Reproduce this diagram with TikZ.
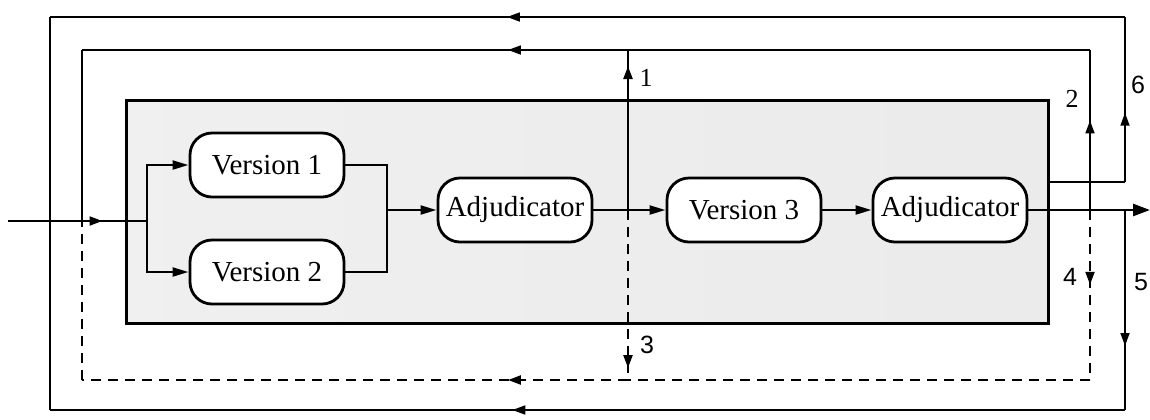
\documentclass[tikz,border=0pt]{standalone}
\usepackage{fontspec}
\setmainfont{Liberation Serif}
\newfontfamily\labsans{Liberation Sans}
\usetikzlibrary{arrows.meta,decorations.markings}

\begin{document}
\begin{tikzpicture}[x=0.5pt,y=-0.5pt,
  flow/.style={line width=1.3pt},
  fb/.style={line width=1.1pt},
  tap/.style={line width=1.4pt},
  dashfb/.style={line width=1.3pt, dash pattern=on 5pt off 3.5pt},
  midtip/.style={postaction={decorate},
    decoration={markings, mark=at position #1 with {\arrow{Triangle[length=6.5pt,width=4.4pt]}}}},
  into/.style={-{Triangle[length=8pt,width=4.4pt]}},
  unit/.style={draw, line width=1.4pt, fill=white, rounded corners=11pt,
    minimum width=77pt, minimum height=32pt, inner sep=2pt,
    font=\fontsize{14.5}{16}\selectfont},
  frame/.style={draw, line width=1.5pt, minimum width=461pt, minimum height=111.5pt,
    left color=black!6, middle color=black!20, right color=black!8},
  lab/.style={font=\fontsize{13}{15}\selectfont, inner sep=1pt},
  slab/.style={font=\labsans\fontsize{12.5}{15}\selectfont, inner sep=1pt}
]
\useasboundingbox (0,0) rectangle (1150,419);

% shaded block holding both stages
\node[frame] (box) at (587,211.5) {};

% processing units
\node[unit] (v1)   at (267,165) {Version 1};
\node[unit] (v2)   at (267,272) {Version 2};
\node[unit] (adj1) at (515,210) {Adjudicator};
\node[unit] (v3)   at (744,210) {Version 3};
\node[unit] (adj2) at (950,210) {Adjudicator};

% junction and corner points
\coordinate (in)    at (8,221);
\coordinate (split) at (147,221);
\coordinate (merge) at (387,210);
\coordinate (out)   at (1150,210);
\coordinate (t1)    at (628,210);
\coordinate (t2)    at (1090,210);
\coordinate (t5)    at (1125,210);
\coordinate (t6)    at (1048,182);
\coordinate (c6)    at (1125,182);
\coordinate (aTR)   at (1125,17);
\coordinate (aTL)   at (50,17);
\coordinate (aBL)   at (50,410);
\coordinate (aBR)   at (1125,410);
\coordinate (bT1)   at (628,50);
\coordinate (bTR)   at (1090,50);
\coordinate (bTL)   at (82,50);
\coordinate (bIn)   at (82,221);
\coordinate (bB3)   at (628,380);
\coordinate (bBR)   at (1090,380);
\coordinate (bBL)   at (82,380);

% outer recovery loop (paths 5 and 6)
\draw[fb] (t6) -- (c6);
\draw[fb, midtip=0.42] (c6) -- (aTR);
\draw[fb, midtip=0.575] (aTR) -- (aTL);
\draw[fb] (aTL) -- (aBL);
\draw[fb, midtip=0.68] (t5) -- (aBR);
\draw[fb, midtip=0.57] (aBR) -- (aBL);

% inner loop, solid part (paths 1 and 2)
\draw[tap, midtip=0.9] (t1) -- (bT1);
\draw[fb, midtip=0.22] (bT1) -- (bTL);
\draw[fb] (bTL) -- (bIn);
\draw[fb, midtip=0.56] (t2) -- (bTR);
\draw[fb] (bTR) -- (bT1);

% inner loop, dashed part (paths 3 and 4)
\draw[dashfb, midtip=0.93] (t1) -- (bB3);
\draw[dashfb, midtip=0.22] (bB3) -- (bBL);
\draw[dashfb] (bBL) -- (bIn);
\draw[dashfb, midtip=0.44] (t2) -- (bBR);
\draw[dashfb] (bBR) -- (bB3);

% main data flow
\draw[flow, midtip=0.68] (in) -- (split);
\draw[flow, into] (split) |- (v1.west);
\draw[flow, into] (split) |- (v2.west);
\draw[flow] (v1.east) -| (merge);
\draw[flow] (v2.east) -| (merge);
\draw[flow, into] (merge) -- (adj1.west);
\draw[flow, into] (adj1.east) -- (v3.west);
\draw[flow, into] (v3.east) -- (adj2.west);
\draw[flow, -{Triangle[length=8.5pt,width=6pt]}] (adj2.east) -- (out);

% path labels
\node[lab]  (l1) at (646,78)   {1};
\node[lab]  (l2) at (1072,99)  {2};
\node[slab] (l3) at (647,345)  {3};
\node[slab] (l4) at (1070,277) {4};
\node[slab] (l5) at (1141,282) {5};
\node[slab] (l6) at (1138,85)  {6};
\end{tikzpicture}
\end{document}
